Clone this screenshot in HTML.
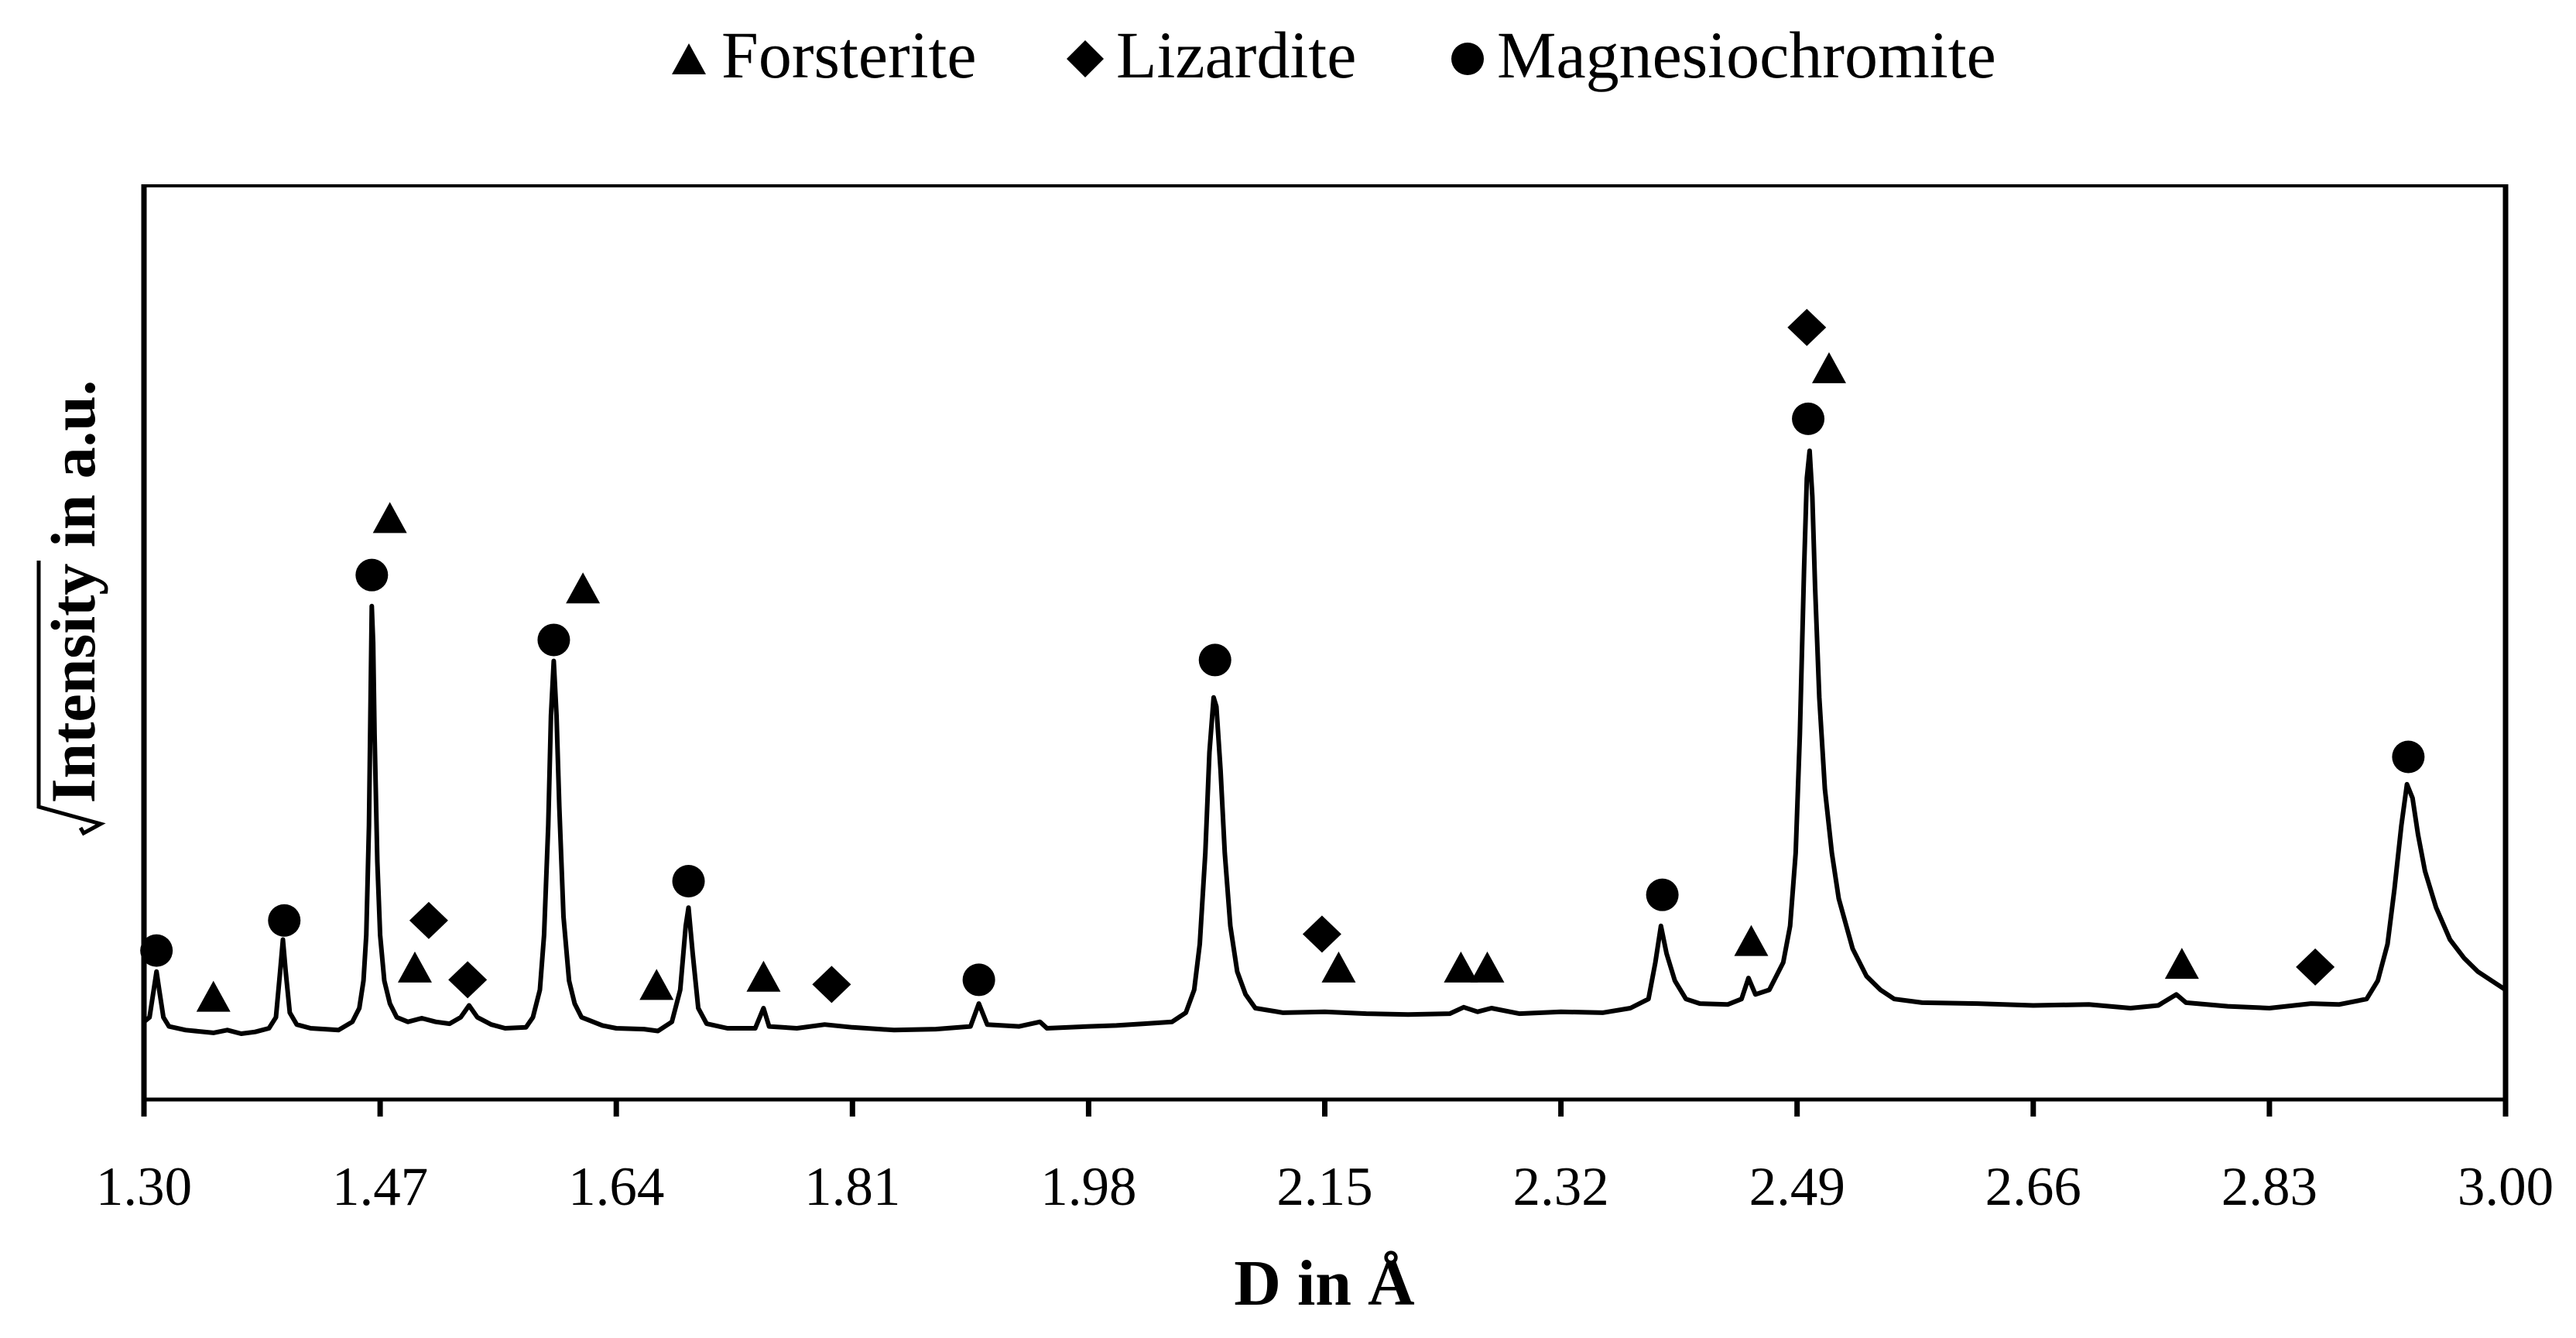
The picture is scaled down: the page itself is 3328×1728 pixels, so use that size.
<!DOCTYPE html>
<html><head><meta charset="utf-8"><style>
html,body{margin:0;padding:0;background:#fff;}
svg{display:block;}
text{font-family:"Liberation Serif",serif;fill:#000;}
</style></head><body>
<svg id="chart" width="3328" height="1728" viewBox="0 0 3328 1728" xmlns="http://www.w3.org/2000/svg">
<g id="legend">
  <g>
    <polygon points="868,96 912,96 890,56" fill="#000"/>
    <text x="932" y="100" font-size="86">Forsterite</text>
  </g>
  <g>
    <polygon points="1402,52 1426,76 1402,100 1378,76" fill="#000"/>
    <text x="1442" y="100" font-size="86">Lizardite</text>
  </g>
  <g>
    <circle cx="1896" cy="76" r="21" fill="#000"/>
    <text x="1934" y="100" font-size="86">Magnesiochromite</text>
  </g>
</g>
<g id="plot"></g>
<text x="1711" y="1685" font-size="84" font-weight="bold" text-anchor="middle">D in Å</text>
<g transform="translate(122,764) rotate(-90)">
  <text x="0" y="0" font-size="82" font-weight="bold" text-anchor="middle">Intensity in a.u.</text>
  <path d="M 40,-72 L -278,-72 L -300,8 L -312,-14 L -305,-18" stroke="#000" stroke-width="5" fill="none" stroke-linejoin="miter"/>
</g>
</svg>
<script>
const xTicks = [1.30, 1.47, 1.64, 1.81, 1.98, 2.15, 2.32, 2.49, 2.66, 2.83, 3.00];
const tickLabels = ["1.30","1.47","1.64","1.81","1.98","2.15","2.32","2.49","2.66","2.83","3.00"];
const dValues = [1.300,1.304,1.307,1.309,1.311,1.314,1.318,1.33,1.35,1.36,1.37,1.38,1.39,1.395,1.398,1.400,1.402,1.405,1.41,1.42,1.44,1.450,1.455,1.458,1.460,1.462,1.463,1.464,1.465,1.466,1.468,1.470,1.473,1.477,1.482,1.49,1.50,1.51,1.52,1.528,1.534,1.54,1.55,1.56,1.575,1.580,1.585,1.588,1.591,1.593,1.595,1.597,1.599,1.602,1.606,1.610,1.615,1.63,1.64,1.66,1.67,1.68,1.686,1.690,1.692,1.695,1.699,1.705,1.72,1.74,1.746,1.75,1.77,1.79,1.81,1.84,1.87,1.895,1.901,1.907,1.93,1.945,1.95,1.98,2.00,2.02,2.04,2.050,2.056,2.060,2.064,2.067,2.070,2.072,2.075,2.078,2.082,2.087,2.093,2.10,2.12,2.15,2.18,2.21,2.24,2.25,2.26,2.27,2.29,2.32,2.35,2.37,2.383,2.388,2.392,2.396,2.402,2.41,2.42,2.44,2.450,2.455,2.46,2.47,2.480,2.485,2.489,2.492,2.495,2.497,2.499,2.501,2.503,2.506,2.510,2.515,2.52,2.53,2.54,2.55,2.56,2.58,2.62,2.66,2.70,2.73,2.75,2.763,2.77,2.80,2.83,2.86,2.88,2.900,2.908,2.915,2.920,2.925,2.929,2.933,2.937,2.942,2.95,2.96,2.97,2.98,2.99,3.00];
const intensity = [8.5,9,12,14,12,9,8,7.6,7.3,7.6,7.2,7.4,7.8,9,14,17.5,14,9.5,8.2,7.8,7.6,8.5,10,13,18,30,42,54,50,40,26,18,13,10.5,9,8.5,8.9,8.5,8.3,9,10.3,9,8.2,7.8,7.9,9,12,18,30,42,48,42,32,20,13,10.5,9,8.1,7.8,7.7,7.5,8.5,12,19,21,16,10,8.3,7.8,7.8,10,8,7.8,8.2,7.9,7.6,7.7,8,10.5,8.2,8,8.5,7.8,8,8.1,8.3,8.5,9.5,12,17,27,38,44,43,36,27,19,14,11.5,10,9.5,9.6,9.4,9.3,9.4,10.1,9.6,10,9.4,9.6,9.5,10,11,15,19,16,13,11,10.5,10.4,11,13.3,11.5,12,15,19,27,40,58,68,71,66,56,44,34,27,22,16.5,13.5,12,11,10.6,10.5,10.3,10.4,10,10.3,11.5,10.6,10.2,10,10.5,10.4,11,13,17,23,30,34.5,33,29,25,21,17.5,15.5,14,13,12];
const circleD = [1.309,1.401,1.464,1.595,1.692,1.901,2.071,2.393,2.498,2.930];
const circleV = [16.3,19.6,57.4,50.3,23.9,13.1,48.1,22.4,74.5,37.5];
const triangleD = [1.350,1.477,1.495,1.616,1.669,1.746,2.160,2.248,2.267,2.457,2.513,2.767];
const triangleV = [11.3,63.7,14.5,56.0,12.6,13.5,14.5,14.5,14.5,17.4,80.1,14.9];
const diamondD = [1.505,1.533,1.795,2.148,2.497,2.863];
const diamondV = [19.6,13.1,12.6,18.1,84.5,14.5];

const L=186, R=3237, T=240, B=1420;
const xMin=1.30, xMax=3.00, yMin=0, yMax=100;
function xs(d){return L+(d-xMin)/(xMax-xMin)*(R-L);}
function ys(v){return B-(v-yMin)/(yMax-yMin)*(B-T);}
const NS="http://www.w3.org/2000/svg";
const plot=document.getElementById('plot');
function mk(tag,attrs){const e=document.createElementNS(NS,tag);for(const k in attrs)e.setAttribute(k,attrs[k]);plot.appendChild(e);return e;}

let d='';
for(let i=0;i<dValues.length;i++){d+=(i?'L':'M')+xs(dValues[i]).toFixed(1)+','+ys(intensity[i]).toFixed(1)+' ';}
const line=mk('path',{d:d,fill:'none',stroke:'#000','stroke-width':6,'stroke-linejoin':'round'});



const frame=mk('rect',{x:L,y:T,width:R-L,height:B-T,fill:'none',stroke:'#000','stroke-width':4});


const la=mk('line',{x1:L,y1:T-2,x2:L,y2:B+2,stroke:'#000','stroke-width':7});


const ra=mk('line',{x1:R,y1:T-2,x2:R,y2:B+2,stroke:'#000','stroke-width':7});


const ba=mk('line',{x1:L,y1:B,x2:R,y2:B,stroke:'#000','stroke-width':5});



for(let i=0;i<xTicks.length;i++){
  const x=xs(xTicks[i]);
  const t=mk('line',{x1:x,y1:B,x2:x,y2:B+22,stroke:'#000','stroke-width':7});
  
  
  const tx=mk('text',{x:x,y:B+136,'font-size':71,'text-anchor':'middle'});
  tx.textContent=tickLabels[i];
  
  
}

for(let i=0;i<circleD.length;i++){
  const c=mk('circle',{cx:xs(circleD[i]),cy:ys(circleV[i]),r:21,fill:'#000'});
  
  
}
for(let i=0;i<triangleD.length;i++){
  const x=xs(triangleD[i]), y=ys(triangleV[i]);
  const p=mk('polygon',{points:(x-22)+','+(y+20)+' '+(x+22)+','+(y+20)+' '+x+','+(y-20),fill:'#000'});
  
  
}
for(let i=0;i<diamondD.length;i++){
  const x=xs(diamondD[i]), y=ys(diamondV[i]);
  const p=mk('polygon',{points:x+','+(y-24)+' '+(x+25)+','+y+' '+x+','+(y+24)+' '+(x-25)+','+y,fill:'#000'});
  
  
}
</script>
</body></html>
